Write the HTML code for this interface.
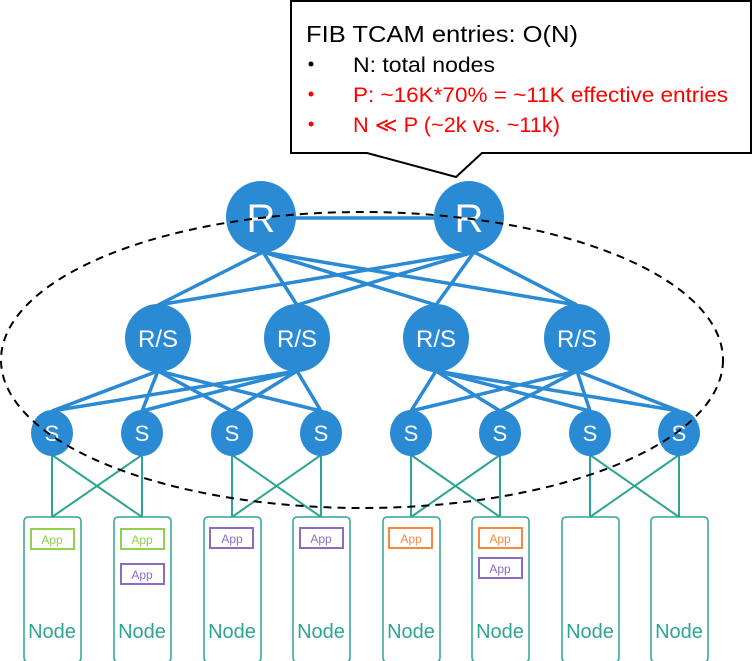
<!DOCTYPE html>
<html><head><meta charset="utf-8"><style>
html,body{margin:0;padding:0;background:#fff;}
svg{display:block;}
text{font-family:"Liberation Sans","DejaVu Sans",sans-serif;}
</style></head><body>
<svg width="752" height="661" viewBox="0 0 752 661" xmlns="http://www.w3.org/2000/svg">
<path d="M291,1 H751 V153 H482 L456,177 L367,153 H291 Z" fill="#fff" stroke="#000" stroke-width="2"/>
<text x="306" y="42" font-size="23" fill="#000" textLength="272" lengthAdjust="spacingAndGlyphs">FIB TCAM entries: O(N)</text>
<circle cx="311" cy="64" r="2.5" fill="#000"/>
<text x="353" y="72" font-size="21" fill="#000" textLength="142" lengthAdjust="spacingAndGlyphs">N: total nodes</text>
<circle cx="311" cy="94" r="2.5" fill="#f00"/>
<text x="353" y="102" font-size="21" fill="#f00" textLength="375" lengthAdjust="spacingAndGlyphs">P: ~16K*70% = ~11K effective entries</text>
<circle cx="311" cy="124" r="2.5" fill="#f00"/>
<text x="353" y="132" font-size="21" fill="#f00" textLength="207" lengthAdjust="spacingAndGlyphs">N ≪ P (~2k vs. ~11k)</text>

<g stroke="#2a8ad4" stroke-width="3.5">
<line x1="261" y1="218" x2="469" y2="218"/>
<line x1="263" y1="252" x2="158" y2="305"/><line x1="263" y1="252" x2="297" y2="305"/>
<line x1="263" y1="252" x2="436" y2="305"/><line x1="263" y1="252" x2="577" y2="305"/>
<line x1="474" y1="252" x2="158" y2="305"/><line x1="474" y1="252" x2="297" y2="305"/>
<line x1="474" y1="252" x2="436" y2="305"/><line x1="474" y1="252" x2="577" y2="305"/>
<line x1="158" y1="371" x2="52" y2="411"/><line x1="158" y1="371" x2="142" y2="411"/>
<line x1="158" y1="371" x2="232" y2="411"/><line x1="158" y1="371" x2="321" y2="411"/>
<line x1="297" y1="371" x2="52" y2="411"/><line x1="297" y1="371" x2="142" y2="411"/>
<line x1="297" y1="371" x2="232" y2="411"/><line x1="297" y1="371" x2="321" y2="411"/>
<line x1="436" y1="371" x2="411" y2="411"/><line x1="436" y1="371" x2="500" y2="411"/>
<line x1="436" y1="371" x2="590" y2="411"/><line x1="436" y1="371" x2="679" y2="411"/>
<line x1="577" y1="371" x2="411" y2="411"/><line x1="577" y1="371" x2="500" y2="411"/>
<line x1="577" y1="371" x2="590" y2="411"/><line x1="577" y1="371" x2="679" y2="411"/>
</g>
<g stroke="#2ca593" stroke-width="2">
<line x1="52" y1="455" x2="52" y2="517"/><line x1="142" y1="455" x2="142" y2="517"/>
<line x1="52" y1="455" x2="142" y2="517"/><line x1="142" y1="455" x2="52" y2="517"/>
<line x1="232" y1="455" x2="232" y2="517"/><line x1="321" y1="455" x2="321" y2="517"/>
<line x1="232" y1="455" x2="321" y2="517"/><line x1="321" y1="455" x2="232" y2="517"/>
<line x1="411" y1="455" x2="411" y2="517"/><line x1="500" y1="455" x2="500" y2="517"/>
<line x1="411" y1="455" x2="500" y2="517"/><line x1="500" y1="455" x2="411" y2="517"/>
<line x1="590" y1="455" x2="590" y2="517"/><line x1="679" y1="455" x2="679" y2="517"/>
<line x1="590" y1="455" x2="679" y2="517"/><line x1="679" y1="455" x2="590" y2="517"/>
</g>
<g fill="#2a8ad4">
<ellipse cx="261" cy="217" rx="35" ry="36"/><ellipse cx="469" cy="217" rx="35" ry="36"/>
<ellipse cx="158" cy="338" rx="33" ry="34"/><ellipse cx="297" cy="338" rx="33" ry="34"/>
<ellipse cx="436" cy="338" rx="33" ry="34"/><ellipse cx="577" cy="338" rx="33" ry="34"/>
<ellipse cx="52" cy="433" rx="21" ry="23"/><ellipse cx="142" cy="433" rx="21" ry="23"/>
<ellipse cx="232" cy="433" rx="21" ry="23"/><ellipse cx="321" cy="433" rx="21" ry="23"/>
<ellipse cx="411" cy="433" rx="21" ry="23"/><ellipse cx="500" cy="433" rx="21" ry="23"/>
<ellipse cx="590" cy="433" rx="21" ry="23"/><ellipse cx="679" cy="433" rx="21" ry="23"/>
</g>
<g fill="#fff" text-anchor="middle">
<text x="261" y="232" font-size="40">R</text><text x="469" y="232" font-size="40">R</text>
<g font-size="24"><text x="158" y="347">R/S</text><text x="297" y="347">R/S</text><text x="436" y="347">R/S</text><text x="577" y="347">R/S</text></g>
<g font-size="22"><text x="52" y="441">S</text><text x="142" y="441">S</text><text x="232" y="441">S</text><text x="321" y="441">S</text><text x="411" y="441">S</text><text x="500" y="441">S</text><text x="590" y="441">S</text><text x="679" y="441">S</text></g>
</g>
<ellipse cx="362" cy="360" rx="361" ry="148" fill="none" stroke="#000" stroke-width="2" stroke-dasharray="8,6"/>
<g fill="#fff" stroke="#2ca593" stroke-width="1.5">
<rect x="24" y="517" width="57" height="145" rx="4"/><rect x="114" y="517" width="57" height="145" rx="4"/>
<rect x="204" y="517" width="57" height="145" rx="4"/><rect x="293" y="517" width="57" height="145" rx="4"/>
<rect x="383" y="517" width="57" height="145" rx="4"/><rect x="472" y="517" width="57" height="145" rx="4"/>
<rect x="562" y="517" width="57" height="145" rx="4"/><rect x="651" y="517" width="57" height="145" rx="4"/>
</g>
<g fill="#2ca593" font-size="20" text-anchor="middle">
<text x="52" y="638">Node</text><text x="142" y="638">Node</text><text x="232" y="638">Node</text><text x="321" y="638">Node</text>
<text x="411" y="638">Node</text><text x="500" y="638">Node</text><text x="590" y="638">Node</text><text x="679" y="638">Node</text>
</g>
<g fill="none" stroke-width="2">
<rect x="31" y="529" width="43" height="20" stroke="#92d050"/>
<rect x="121" y="529" width="43" height="20" stroke="#92d050"/>
<rect x="121" y="564" width="43" height="20" stroke="#8e6bbf"/>
<rect x="210" y="528" width="43" height="20" stroke="#8e6bbf"/>
<rect x="300" y="528" width="43" height="20" stroke="#8e6bbf"/>
<rect x="389" y="528" width="43" height="20" stroke="#f68a3c"/>
<rect x="479" y="528" width="43" height="20" stroke="#f68a3c"/>
<rect x="479" y="558" width="43" height="20" stroke="#8e6bbf"/>
</g>
<g font-size="12" text-anchor="middle">
<text x="52" y="544" fill="#92d050">App</text>
<text x="142" y="544" fill="#92d050">App</text>
<text x="142" y="579" fill="#8e6bbf">App</text>
<text x="232" y="543" fill="#8e6bbf">App</text>
<text x="321" y="543" fill="#8e6bbf">App</text>
<text x="411" y="543" fill="#f68a3c">App</text>
<text x="500" y="543" fill="#f68a3c">App</text>
<text x="500" y="573" fill="#8e6bbf">App</text>
</g>
</svg>
</body></html>
